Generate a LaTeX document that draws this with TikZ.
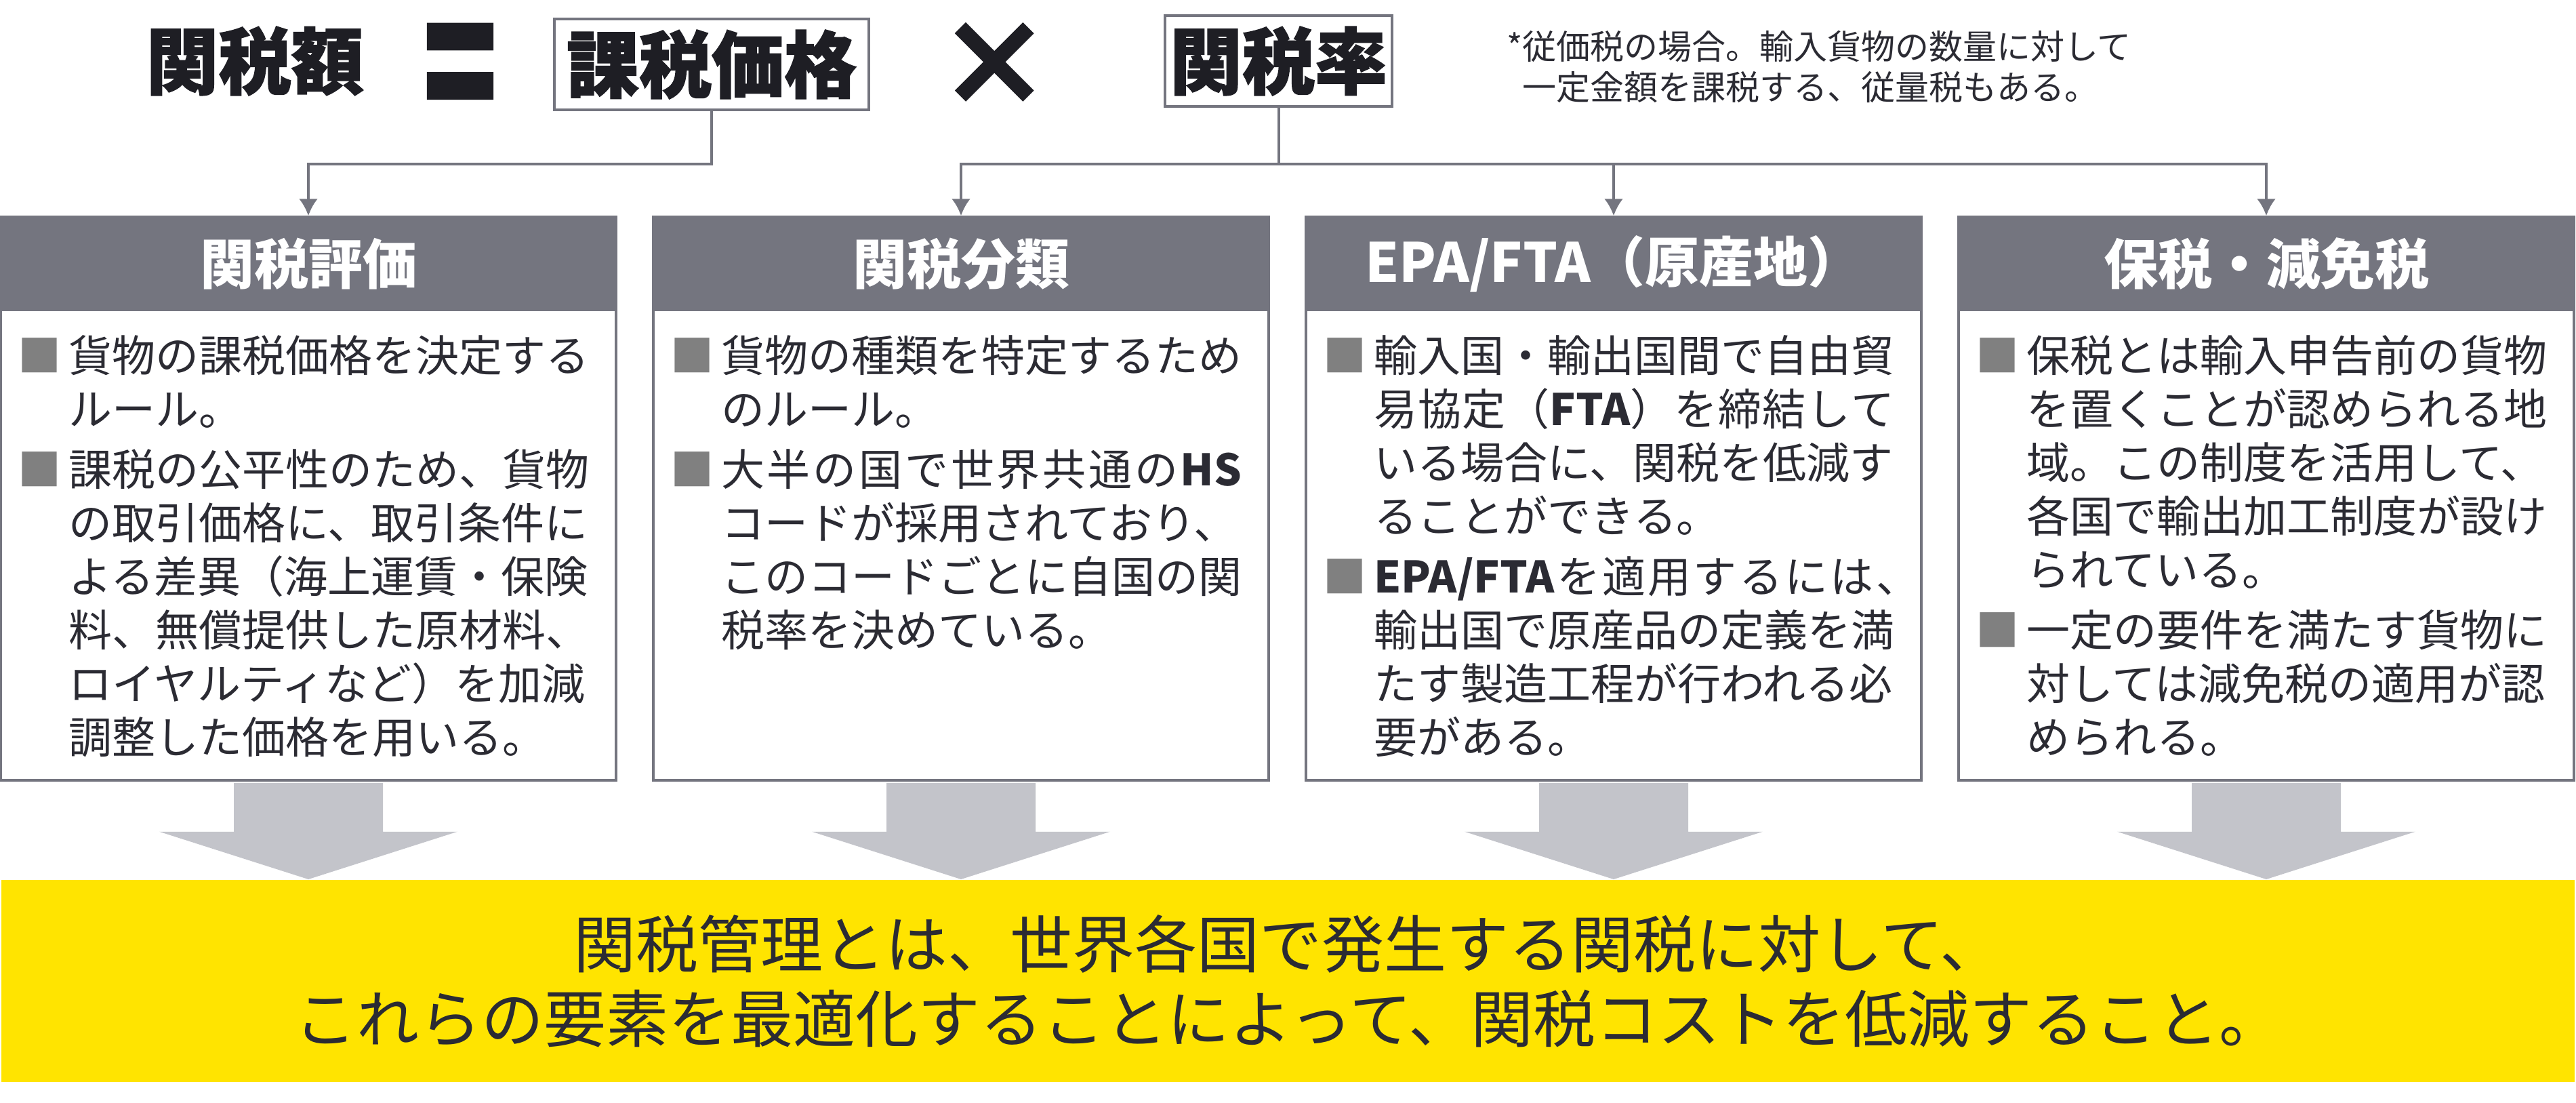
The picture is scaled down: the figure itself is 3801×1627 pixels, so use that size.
\documentclass[tikz,border=0pt]{standalone}
\usepackage{fontspec}
\setmainfont{Noto Sans CJK JP}
\newfontfamily\heavy[FakeBold=1.5]{Noto Sans CJK JP}
\usetikzlibrary{arrows.meta,calc}
\definecolor{hgray}{HTML}{74757F}
\definecolor{ink}{HTML}{2B2B33}
\definecolor{tink}{HTML}{1E1E24}
\definecolor{bul}{HTML}{808080}
\definecolor{garrow}{HTML}{C3C4CA}
\definecolor{ybg}{HTML}{FFE400}
\newlength\lw \setlength\lw{153.6pt}
\newcommand\J[1]{\makebox[\lw][s]{#1}}
\newcommand\Bu{\llap{\textcolor{bul}{■}\hspace{2.2pt}}}
\begin{document}
\begin{tikzpicture}[x=0.2pt,y=-0.2pt,
  hdr/.style={fill=hgray,text=white,font=\fontsize{16pt}{16pt}\selectfont\bfseries,minimum width=181.6pt,minimum height=28pt,inner sep=0,anchor=north},
  bodybox/.style={draw=hgray,line width=0.7pt,fill=white,minimum width=181.6pt,minimum height=166.2pt,inner sep=0},
  body/.style={text=ink,font=\fontsize{12.8pt}{15.8pt}\selectfont,align=left,anchor=north west,inner sep=0},
  title/.style={text=tink,font=\fontsize{21.4pt}{21.4pt}\selectfont\heavy\bfseries,inner sep=4pt},
  titlebox/.style={title,inner sep=0,draw=hgray,line width=0.8pt,minimum height=26.8pt},
  conn/.style={draw=hgray,line width=0.8pt,-{Latex[length=5pt,width=5.6pt]}},
  plain/.style={draw=hgray,line width=0.8pt}]
\useasboundingbox (0,0) rectangle (3801,1627);
% top formula
\node[title] (kanzei) at (376,90) {関税額};
\node[title,font=\fontsize{27.5pt}{27.5pt}\selectfont\heavy\bfseries] (eq) at (679,123) {\scalebox{1}[2.2]{＝}};
\node[titlebox,minimum width=92.8pt] (kazei) at (1050,95) {課税価格};
\node[title,font=\fontsize{34pt}{34pt}\selectfont\heavy\bfseries] (times) at (1467,95.5) {×};
\node[titlebox,minimum width=67pt] (rate) at (1886.5,90) {関税率};
\node[text=ink,font=\fontsize{10pt}{12pt}\selectfont,align=left,anchor=north west,inner sep=0] (note) at (2222,36)
  {\rule{0pt}{10pt}*従価税の場合。輸入貨物の数量に対して\\\hphantom{*}一定金額を課税する、従量税もある。};
% boxes
\node[bodybox] (b1) at (455,735.5) {};
\node[bodybox] (b2) at (1418,735.5) {};
\node[bodybox] (b3) at (2381,735.5) {};
\node[bodybox] (b4) at (3344,735.5) {};
\node[hdr] (h1) at (b1.north) {関税評価};
\node[hdr] (h2) at (b2.north) {関税分類};
\node[hdr] (h3) at (b3.north) {EPA/FTA（原産地）};
\node[hdr] (h4) at (b4.north) {保税・減免税};
% connectors
\coordinate (j1) at ($(kazei.south)+(0,78)$);
\draw[conn] (kazei.south) -- (j1) -| (h1.north);
\coordinate (j2) at ($(rate.south)+(0,83)$);
\draw[plain] (rate.south) -- (j2);
\draw[conn] (j2) -| (h2.north);
\draw[conn] (j2) -| (h3.north);
\draw[conn] (j2) -| (h4.north);
% body texts
\node[body] (t1) at ($(b1.north west)+(101,165)$) {\rule{0pt}{12.8pt}\Bu 貨物の課税価格を決定する\\
ルール。\\[2pt]
\Bu 課税の公平性のため、貨物\\
の取引価格に、取引条件に\\
よる差異（海上運賃・保険\\
料、無償提供した原材料、\\
ロイヤルティなど）を加減\\
調整した価格を用いる。};
\node[body] (t2) at ($(b2.north west)+(101,165)$) {\rule{0pt}{12.8pt}\Bu 貨物の種類を特定するため\\
のルール。\\[2pt]
\Bu \J{大\hfill 半\hfill の\hfill 国\hfill で\hfill 世\hfill 界\hfill 共\hfill 通\hfill の\hfill{\bfseries HS}}\\
コードが採用されており、\\
このコードごとに自国の関\\
税率を決めている。};
\node[body] (t3) at ($(b3.north west)+(101,165)$) {\rule{0pt}{12.8pt}\Bu 輸入国・輸出国間で自由貿\\
\J{易\hfill 協\hfill 定\hfill （{\bfseries FTA}）\hfill を\hfill 締\hfill 結\hfill し\hfill て}\\
いる場合に、関税を低減す\\
ることができる。\\[2pt]
\Bu \makebox[161pt][s]{{\bfseries EPA/FTA}\hfill を\hfill 適\hfill 用\hfill す\hfill る\hfill に\hfill は\hfill 、}\\
輸出国で原産品の定義を満\\
たす製造工程が行われる必\\
要がある。};
\node[body] (t4) at ($(b4.north west)+(101,165)$) {\rule{0pt}{12.8pt}\Bu 保税とは輸入申告前の貨物\\
を置くことが認められる地\\
域。この制度を活用して、\\
各国で輸出加工制度が設け\\
られている。\\[2pt]
\Bu 一定の要件を満たす貨物に\\
対しては減免税の適用が認\\
められる。};
% yellow conclusion
\node[fill=ybg,minimum width=759.4pt,minimum height=59.6pt,inner sep=0,text=ink,font=\fontsize{18.4pt}{22pt}\selectfont,align=center] (yb) at (1900.5,1447)
  {関税管理とは、世界各国で発生する関税に対して、\\これらの要素を最適化することによって、関税コストを低減すること。};
% block arrows
\foreach \i in {1,...,4}{
  \fill[garrow] ($(b\i.south)+(-110,2)$) -- ++(220,0) -- ++(0,72) -- ++(110,0) -- (b\i.south |- yb.north)
    -- ($(b\i.south)+(-220,74)$) -- ++(110,0) -- cycle;
}
\end{tikzpicture}
\end{document}
